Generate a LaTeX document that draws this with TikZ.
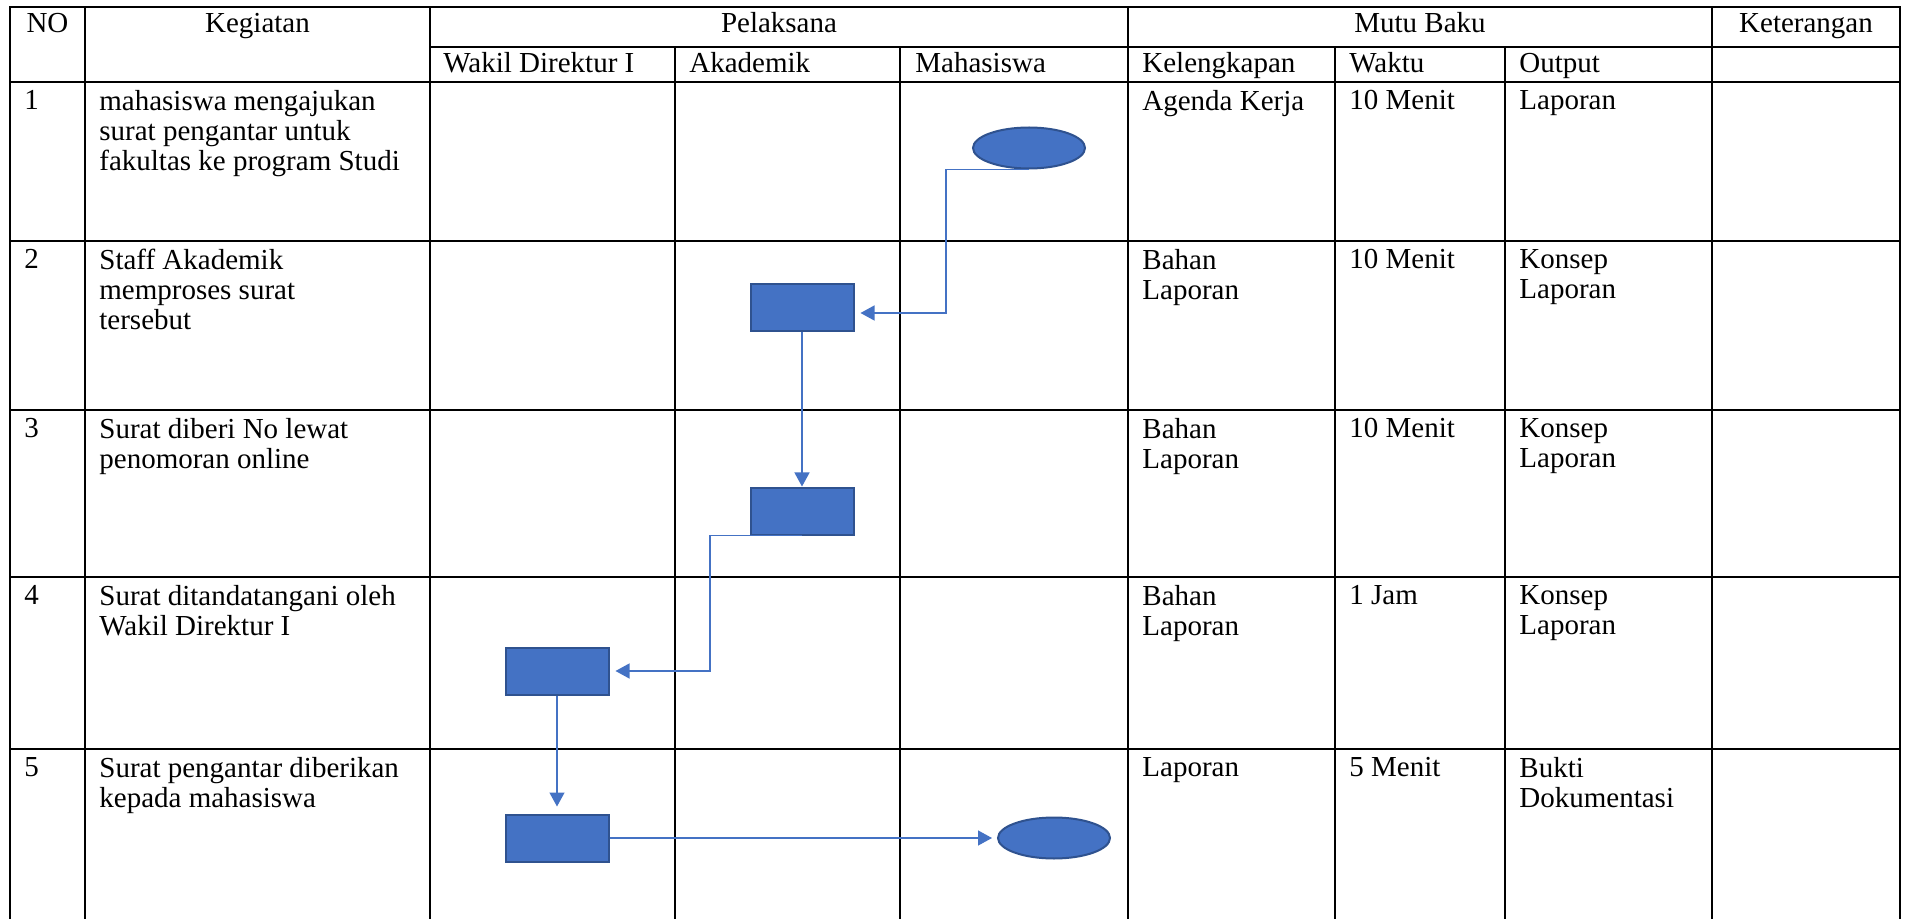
\documentclass[tikz,border=0pt]{standalone}
\usepackage{fontspec}
\setmainfont{Liberation Serif}
\usetikzlibrary{shapes,arrows.meta}

\definecolor{wordblue}{HTML}{4472C4}
\definecolor{wordedge}{HTML}{2F528F}

\begin{document}
\begin{tikzpicture}[
    x=0.5pt, y=-0.5pt,
    grid/.style={draw=black, line width=1pt},
    cell/.style={anchor=north west, inner sep=0pt, align=left, font=\fontsize{14.5}{15}\selectfont},
    head/.style={anchor=base, inner sep=0pt, font=\fontsize{14.5}{15}\selectfont},
    sub/.style={anchor=base west, inner sep=0pt, font=\fontsize{14.5}{15}\selectfont},
    proc/.style={draw=wordedge, fill=wordblue, line width=1pt, rectangle, minimum width=51.5pt, minimum height=23.5pt, inner sep=0pt},
    term/.style={draw=wordedge, fill=wordblue, line width=1pt, ellipse, minimum width=56pt, minimum height=20.5pt, inner sep=0pt},
    flow/.style={draw=wordblue, line width=0.65pt, -{Triangle[length=7pt,width=7.5pt]}}
]
\useasboundingbox[fill=white] (0,0) rectangle (1906,919);

% Table lines
\draw[grid] (10,919) -- (10,7) -- (1900,7) -- (1900,919);
\draw[grid] (430,47) -- (1900,47);
\foreach \y in {82,241,410,577,749}
    \draw[grid] (10,\y) -- (1900,\y);
\foreach \x in {85,430,1128,1712}
    \draw[grid] (\x,7) -- (\x,919);
\foreach \x in {675,900,1335,1505}
    \draw[grid] (\x,47) -- (\x,919);

% Header
\node[head] (hno) at (47.5,33) {NO};
\node[head] (hkeg) at (257.5,33) {Kegiatan};
\node[head] (hpel) at (779,33) {Pelaksana};
\node[head] (hmutu) at (1420,33) {Mutu Baku};
\node[head] (hket) at (1806,33) {Keterangan};
\node[sub] (hwakil) at (443,73) {Wakil Direktur I};
\node[sub] (hakad) at (689,73) {Akademik};
\node[sub] (hmhs) at (915,73) {Mahasiswa};
\node[sub] (hleng) at (1142,73) {Kelengkapan};
\node[sub] (hwaktu) at (1349,73) {Waktu};
\node[sub] (hout) at (1519,73) {Output};

% Row 1
\node[cell] (no1) at (24,90) {1};
\node[cell] (keg1) at (99,90) {mahasiswa mengajukan\\surat pengantar untuk\\fakultas ke program Studi};
\node[cell] (leng1) at (1142,90) {Agenda Kerja};
\node[cell] (waktu1) at (1349,90) {10 Menit};
\node[cell] (out1) at (1519,90) {Laporan};

% Row 2
\node[cell] (no2) at (24,249) {2};
\node[cell] (keg2) at (99,249) {Staff Akademik\\memproses surat\\tersebut};
\node[cell] (leng2) at (1142,249) {Bahan\\Laporan};
\node[cell] (waktu2) at (1349,249) {10 Menit};
\node[cell] (out2) at (1519,249) {Konsep\\Laporan};

% Row 3
\node[cell] (no3) at (24,418) {3};
\node[cell] (keg3) at (99,418) {Surat diberi No lewat\\penomoran online};
\node[cell] (leng3) at (1142,418) {Bahan\\Laporan};
\node[cell] (waktu3) at (1349,418) {10 Menit};
\node[cell] (out3) at (1519,418) {Konsep\\Laporan};

% Row 4
\node[cell] (no4) at (24,585) {4};
\node[cell] (keg4) at (99,585) {Surat ditandatangani oleh\\Wakil Direktur I};
\node[cell] (leng4) at (1142,585) {Bahan\\Laporan};
\node[cell] (waktu4) at (1349,585) {1 Jam};
\node[cell] (out4) at (1519,585) {Konsep\\Laporan};

% Row 5
\node[cell] (no5) at (24,757) {5};
\node[cell] (keg5) at (99,757) {Surat pengantar diberikan\\kepada mahasiswa};
\node[cell] (leng5) at (1142,757) {Laporan};
\node[cell] (waktu5) at (1349,757) {5 Menit};
\node[cell] (out5) at (1519,757) {Bukti\\Dokumentasi};

% Flow shapes
\node[term] (mulai) at (1029,148) {};
\node[proc] (proses) at (802,308) {};
\node[proc] (nomor) at (802,511) {};
\node[proc] (ttd) at (557,671) {};
\node[proc] (serah) at (557,838) {};
\node[term] (selesai) at (1054,838) {};

% Arrows
\draw[flow, shorten >=3pt] (mulai.south) -- ++(-83,0) |- ([yshift=-2.5pt]proses.east);
\draw[flow] (proses) -- (nomor);
\draw[flow, shorten >=3pt] (nomor.south) -- ++(-92,0) |- (ttd.east);
\draw[flow, shorten >=3.5pt] (ttd) -- (serah);
\draw[flow, shorten >=2.5pt] (serah) -- (selesai);

\end{tikzpicture}
\end{document}
